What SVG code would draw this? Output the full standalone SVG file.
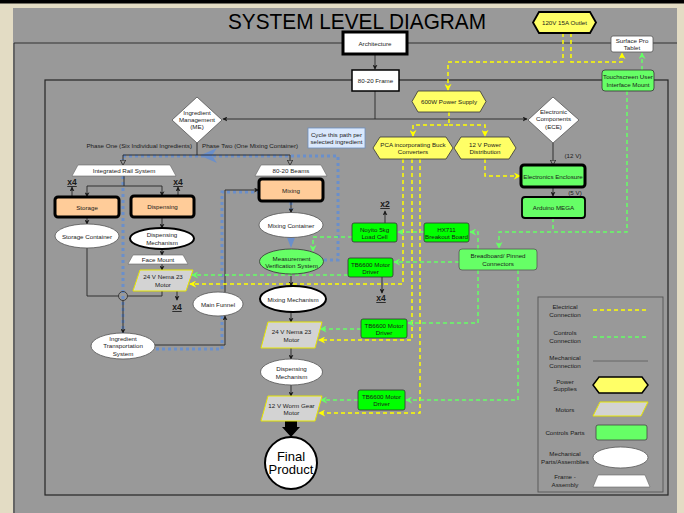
<svg xmlns="http://www.w3.org/2000/svg" width="684" height="513" viewBox="0 0 684 513">
<style>
text{font-family:"Liberation Sans",Arial,sans-serif;}
.t{font-size:6.2px;fill:#1a1a1a;text-anchor:middle;dominant-baseline:central;}
.xn{font-size:8.5px;font-weight:bold;fill:#1a1a1a;text-anchor:middle;text-decoration:underline;}
.mech{fill:none;stroke:#262626;stroke-width:0.9;}
.yel{fill:none;stroke:#ffff00;stroke-width:1.5;stroke-dasharray:4 3;}
.grn{fill:none;stroke:#66ff66;stroke-width:1.5;stroke-dasharray:4 3;}
.blu{fill:none;stroke:#6a8fcb;stroke-width:3;stroke-dasharray:3 3;}
.wht{fill:#ffffff;stroke:#555;stroke-width:0.8;}
.thick{fill:#ffffff;stroke:#000;stroke-width:2;}
.peach{fill:#ffcc99;stroke:#000;stroke-width:3;}
.lg{fill:#66ff66;stroke:#333;stroke-width:0.8;}
.bg{fill:#00ff00;stroke:#333;stroke-width:0.8;}
.pwr{fill:#ffff66;stroke:#333;stroke-width:0.8;}
.mot{fill:#d3d3d3;stroke:#e6e600;stroke-width:1;}
.frm{fill:#ffffff;stroke:#666;stroke-width:0.6;}
</style>
<defs>
<marker id="ab" viewBox="0 0 8 8" refX="7" refY="4" markerWidth="5" markerHeight="5" markerUnits="userSpaceOnUse" orient="auto"><path d="M0,0 L8,4 L0,8 L2,4 z" fill="#1a1a1a"/></marker>
<marker id="ay" viewBox="0 0 8 8" refX="7" refY="4" markerWidth="7" markerHeight="7" markerUnits="userSpaceOnUse" orient="auto"><path d="M0,0 L8,4 L0,8 L2.5,4 z" fill="#ffff00"/></marker>
<marker id="ag" viewBox="0 0 8 8" refX="7" refY="4" markerWidth="7" markerHeight="7" markerUnits="userSpaceOnUse" orient="auto"><path d="M0,0 L8,4 L0,8 L2.5,4 z" fill="#66ff66"/></marker>
<marker id="ao" viewBox="0 0 8 8" refX="7" refY="4" markerWidth="6" markerHeight="6" markerUnits="userSpaceOnUse" orient="auto"><path d="M0.5,0.5 L7.5,4 L0.5,7.5 z" fill="#999" stroke="#1a1a1a" stroke-width="1"/></marker>
<marker id="aob" viewBox="0 0 8 8" refX="7" refY="4" markerWidth="7" markerHeight="7" markerUnits="userSpaceOnUse" orient="auto"><path d="M0.5,0.5 L7.5,4 L0.5,7.5 z" fill="#999" stroke="#6a8fcb" stroke-width="1.2"/></marker>
</defs>

<!-- background -->
<rect x="0" y="0" width="684" height="513" fill="#e3dcc4"/>
<rect x="0" y="0" width="684" height="3.5" fill="#000"/>
<rect x="13" y="8" width="664" height="505" fill="#999999"/>

<text x="228" y="29" font-size="22.5" fill="#000" textLength="258" lengthAdjust="spacingAndGlyphs">SYSTEM LEVEL DIAGRAM</text>

<g id="connectors">
<!-- frames -->
<path class="mech" d="M14 513 V43 H677" stroke-width="1.2"/>
<rect x="45" y="80" width="623" height="415" fill="none" stroke="#262626" stroke-width="1.2"/>
<path class="mech" d="M375 54 V69" marker-end="url(#ab)"/>
<path class="mech" d="M375 91 V119 H223" marker-end="url(#ab)"/>
<path class="mech" d="M375 119 H527" marker-end="url(#ab)"/>
<path class="mech" d="M553 143 V165" marker-end="url(#ao)"/>
<path class="mech" d="M553 187 V196" marker-end="url(#ab)"/>

<!-- blue cycle path -->
<path class="blu" d="M324 260 H338 V156 H123 V160"/>
<path class="blu" d="M123 176 V333"/>
<path class="blu" d="M156 349 H222 V192 H258"/>
<path class="blu" d="M291 202 V212"/>
<polygon points="200,155.5 217,148 212,155.5 217,163" fill="#6a8fcb"/>
<polygon points="287,237.5 295,237.5 291,248" fill="#6a8fcb"/>

<!-- mechanical -->
<path class="mech" d="M197 143 V155 H123 V165" marker-end="url(#ao)"/>
<path class="mech" d="M197 155 H290 V165" marker-end="url(#ao)"/>
<path class="mech" d="M124 176 V186"/>
<path class="mech" d="M87 186 H162"/>
<path class="mech" d="M87 186 V196.5" marker-end="url(#ab)"/>
<path class="mech" d="M162 186 V195.5" marker-end="url(#ab)"/>
<path class="mech" d="M72 197 V187" marker-end="url(#ab)"/>
<path class="mech" d="M178 196 V187" marker-end="url(#ab)"/>
<path class="mech" d="M87 217 V224" marker-end="url(#ab)"/>
<path class="mech" d="M162 217 V228" marker-end="url(#ab)"/>
<path class="mech" d="M162 249 V255" marker-end="url(#ab)"/>
<path class="mech" d="M162 264 V270" marker-end="url(#ab)"/>
<path class="mech" d="M87 248 V296 H118.5"/>
<path class="mech" d="M127.5 296 H162 V291"/>
<circle cx="123" cy="296" r="4.5" fill="none" stroke="#333" stroke-width="0.9"/>
<path class="mech" d="M123 300.5 V333" marker-end="url(#ab)"/>
<path class="mech" d="M177 291 V300" marker-end="url(#ab)"/>
<path class="mech" d="M155 345 H225 V316" marker-end="url(#ab)"/>
<path class="mech" d="M225 292 V190 H258.5" marker-end="url(#ab)"/>
<path class="mech" d="M291 201 V212.5" marker-end="url(#ab)"/>
<path class="mech" d="M291 274 V286" marker-end="url(#ab)"/>
<path class="mech" d="M291 312 V322" marker-end="url(#ab)"/>
<path class="mech" d="M291 348 V359" marker-end="url(#ab)"/>
<path class="mech" d="M291 385 V396" marker-end="url(#ab)"/>
<path class="mech" d="M385 223 V211" marker-end="url(#ab)"/>
<path class="mech" d="M382 277 V293" marker-end="url(#ab)"/>
<polygon points="285,421 297,421 297,427 300,427 291,437 282,427 285,427" fill="#000"/>

<!-- electrical -->
<path class="yel" d="M563 33 V62 H448 V90" marker-end="url(#ay)"/>
<path class="yel" d="M571 33 V62 H622 V53" marker-end="url(#ay)"/>
<path class="yel" d="M449 112 V125 H413 V136" marker-end="url(#ay)"/>
<path class="yel" d="M449 125 H485 V136" marker-end="url(#ay)"/>
<path class="yel" d="M485 159 V176 H520" marker-end="url(#ay)"/>
<path class="yel" d="M403 159 V284 H190" marker-end="url(#ay)"/>
<path class="yel" d="M412 159 V340 H319" marker-end="url(#ay)"/>
<path class="yel" d="M420 159 V413 H319" marker-end="url(#ay)"/>

<!-- controls -->
<path class="grn" d="M642 70 V53" marker-end="url(#ag)"/>
<path class="grn" d="M627 91 V232 H499 V248" marker-end="url(#ag)"/>
<path class="grn" d="M553 218 V232"/>
<path class="grn" d="M478 249 V232 H470" marker-end="url(#ag)"/>
<path class="grn" d="M424 232 H398" marker-end="url(#ag)"/>
<path class="grn" d="M352 237 H313 V251" marker-end="url(#ag)"/>
<path class="grn" d="M459 262 H394" marker-end="url(#ag)"/>
<path class="grn" d="M348 275 H192" marker-end="url(#ag)"/>
<path class="grn" d="M478 270 V323 H408" marker-end="url(#ag)"/>
<path class="grn" d="M361 329 H320.5" marker-end="url(#ag)"/>
<path class="grn" d="M518 270 V400 H406" marker-end="url(#ag)"/>
<path class="grn" d="M358 400 H321" marker-end="url(#ag)"/>
</g>

<!-- nodes -->
<g id="architecture"><rect x="343" y="32" width="64" height="22" fill="#fff" stroke="#000" stroke-width="3"/><text class="t" x="375" y="43">Architecture</text></g>
<g id="frame8020"><rect x="352" y="70" width="47" height="21" fill="#fff" stroke="#000" stroke-width="1.5"/><text class="t" x="375.5" y="80.5">80-20 Frame</text></g>
<g id="outlet"><polygon points="539,12 590,12 596,22.5 590,33 539,33 533,22.5" fill="#ffff66" stroke="#000" stroke-width="1.8"/><text class="t" x="564.5" y="22.5">120V 15A Outlet</text></g>
<g id="surface"><rect x="611" y="36" width="42" height="16" rx="2" class="wht"/><text class="t" x="632" y="40.5">Surface Pro</text><text class="t" x="632" y="47.5">Tablet</text></g>
<g id="touch"><rect x="602" y="70" width="52" height="21" rx="3" class="lg"/><text class="t" x="628" y="76.5">Touchscreen User</text><text class="t" x="628" y="84">Interface Mount</text></g>
<g id="psu"><polygon points="418,91 480,91 486,101.5 480,112 418,112 412,101.5" class="pwr"/><text class="t" x="449" y="101.5">600W Power Supply</text></g>
<g id="ingmgmt"><polygon points="197,97 222,120 197,143 172,120" class="wht"/><text class="t" x="197" y="112.5">Ingredient</text><text class="t" x="197" y="119">Management</text><text class="t" x="197" y="126">(ME)</text></g>
<g id="ece"><polygon points="553,97 579,120 553,143 528,120" class="wht"/><text class="t" x="553.5" y="111">Electronic</text><text class="t" x="553.5" y="118">Components</text><text class="t" x="553.5" y="126">(ECE)</text></g>
<g id="pca"><polygon points="380,137 446,137 453,148 446,159 380,159 373,148" class="pwr"/><text class="t" x="413" y="144">PCA incorporating Buck</text><text class="t" x="413" y="151.5">Converters</text></g>
<g id="dist12"><polygon points="461,137 509,137 516,148 509,159 461,159 454,148" class="pwr"/><text class="t" x="485" y="144">12 V Power</text><text class="t" x="485" y="151.5">Distribution</text></g>
<g id="labels12"><text class="t" x="573" y="155">(12 V)</text><text class="t" x="575" y="192">(5 V)</text></g>
<g id="enclosure"><rect x="521" y="165" width="64" height="22" rx="3" fill="#66ff66" stroke="#000" stroke-width="3"/><text class="t" x="553" y="176">Electronics Enclosure</text></g>
<g id="arduino"><rect x="522" y="197" width="63" height="21" rx="3" fill="#66ff66" stroke="#000" stroke-width="1.8"/><text class="t" x="553.5" y="207.5">Arduino MEGA</text></g>
<g id="breadboard"><rect x="459" y="249" width="78" height="21" rx="3" fill="#66ff66" stroke="#555" stroke-width="0.8"/><text class="t" x="498" y="255.5">Breadboard/ Pinned</text><text class="t" x="498" y="263">Connectors</text></g>
<g id="loadcell"><rect x="352" y="223" width="45" height="19" rx="2" class="bg"/><text class="t" x="374.5" y="229">Noyito 5kg</text><text class="t" x="374.5" y="236">Load Cell</text></g>
<g id="hx711"><rect x="424" y="223" width="45" height="19" rx="2" class="bg"/><text class="t" x="446.5" y="229">HX711</text><text class="t" x="446.5" y="236">Breakout Board</text></g>
<g id="tb1"><rect x="348" y="258" width="45" height="19" rx="2" class="bg"/><text class="t" x="370.5" y="264">TB6600 Motor</text><text class="t" x="370.5" y="271">Driver</text></g>
<g id="tb2"><rect x="361" y="319" width="46" height="19" rx="2" class="bg"/><text class="t" x="384" y="325">TB6600 Motor</text><text class="t" x="384" y="332">Driver</text></g>
<g id="tb3"><rect x="358" y="390" width="47" height="20" rx="2" class="bg"/><text class="t" x="381.5" y="396.5">TB6600 Motor</text><text class="t" x="381.5" y="403.5">Driver</text></g>
<g id="mults"><text class="xn" x="72" y="185">x4</text><text class="xn" x="178" y="185">x4</text><text class="xn" x="177" y="310">x4</text><text class="xn" x="385" y="207">x2</text><text class="xn" x="381" y="301">x4</text></g>

<g id="cycle"><rect x="308" y="128" width="57" height="20" fill="#dae8fc" stroke="#6c8ebf" stroke-width="0.8"/><text class="t" x="336.5" y="134.5">Cycle this path per</text><text class="t" x="336.5" y="141.5">selected ingredient</text></g>
<g id="phases"><text class="t" x="192" y="145" style="text-anchor:end">Phase One (Six Individual Ingredients)</text><text class="t" x="202" y="145" style="text-anchor:start">Phase Two (One Mixing Container)</text></g>

<g id="rail"><polygon points="78,165 170,165 176,176 72,176" class="frm"/><text class="t" x="124" y="170.5">Integrated Rail System</text></g>
<g id="beams"><polygon points="261,165 321,165 327,176 255,176" class="frm"/><text class="t" x="291" y="170.5">80-20 Beams</text></g>
<g id="storage"><rect x="55" y="197" width="64" height="20" rx="3" class="peach"/><text class="t" x="87" y="207">Storage</text></g>
<g id="dispensing"><rect x="131" y="196" width="63" height="21" rx="3" class="peach"/><text class="t" x="162.5" y="206.5">Dispensing</text></g>
<g id="storagecont"><ellipse cx="87" cy="236" rx="32" ry="12" class="wht"/><text class="t" x="87" y="236">Storage Container</text></g>
<g id="dispmech1"><ellipse cx="162" cy="238.5" rx="32" ry="10.5" class="thick"/><text class="t" x="162" y="234.5">Dispensing</text><text class="t" x="162" y="242">Mechanism</text></g>
<g id="facemount"><polygon points="133,255 183,255 188,264 128,264" class="frm"/><text class="t" x="158" y="259.5">Face Mount</text></g>
<g id="motor1"><polygon points="140,270 193,270 186,291 133,291" class="mot"/><text class="t" x="163" y="276.5">24 V Nema 23</text><text class="t" x="163" y="284">Motor</text></g>
<g id="its"><ellipse cx="123" cy="346" rx="32" ry="13" class="wht"/><text class="t" x="123" y="338.5">Ingredient</text><text class="t" x="123" y="345.5">Transportation</text><text class="t" x="123" y="353">System</text></g>
<g id="funnel"><ellipse cx="218" cy="304" rx="25" ry="12" class="wht"/><text class="t" x="218" y="304">Main Funnel</text></g>
<g id="mixing"><rect x="259" y="179" width="64" height="22" rx="3" class="peach"/><text class="t" x="291" y="190">Mixing</text></g>
<g id="mixcont"><ellipse cx="291" cy="225" rx="32" ry="12.5" class="wht"/><text class="t" x="291" y="225">Mixing Container</text></g>
<g id="mvs"><ellipse cx="291.5" cy="261.5" rx="32" ry="12.5" fill="#66ff66" stroke="#333" stroke-width="0.8"/><text class="t" x="291.5" y="258">Measurement</text><text class="t" x="291.5" y="265.5">Verification System</text></g>
<g id="mixmech"><ellipse cx="293" cy="299" rx="33" ry="13" class="thick"/><text class="t" x="293" y="299">Mixing Mechanism</text></g>
<g id="motor2"><polygon points="268,322 322,322 315,348 261,348" class="mot"/><text class="t" x="291.5" y="331.5">24 V Nema 23</text><text class="t" x="291.5" y="339">Motor</text></g>
<g id="dispmech2"><ellipse cx="291.5" cy="372" rx="31" ry="13" class="wht"/><text class="t" x="291.5" y="368.5">Dispensing</text><text class="t" x="291.5" y="376">Mechanism</text></g>
<g id="wormgear"><polygon points="268,396 322,396 315,421 261,421" class="mot"/><text class="t" x="291.5" y="405">12 V Worm Gear</text><text class="t" x="291.5" y="412.5">Motor</text></g>
<g id="final"><circle cx="291" cy="463" r="26" fill="#fff" stroke="#000" stroke-width="2"/><text x="291" y="456" font-size="13" text-anchor="middle" dominant-baseline="central" fill="#000">Final</text><text x="291" y="469.5" font-size="13" text-anchor="middle" dominant-baseline="central" fill="#000">Product</text></g>

<g id="legend">
<rect x="538" y="297" width="125" height="195" fill="none" stroke="#555" stroke-width="0.9"/>
<text class="t" x="565" y="306.5">Electrical</text><text class="t" x="565" y="314">Connection</text>
<path class="yel" d="M593 310 H646"/>
<text class="t" x="565" y="332.5">Controls</text><text class="t" x="565" y="340">Connection</text>
<path class="grn" d="M593 337 H646"/>
<text class="t" x="565" y="357.5">Mechanical</text><text class="t" x="565" y="365">Connection</text>
<path d="M593 361 H648" stroke="#666" stroke-width="1" fill="none"/>
<text class="t" x="565" y="381">Power</text><text class="t" x="565" y="388.5">Supplies</text>
<polygon points="599,377 642,377 648,385 642,393 599,393 593,385" fill="#ffff66" stroke="#000" stroke-width="1.5"/>
<text class="t" x="565" y="409">Motors</text>
<polygon points="600,402 648,402 641,416 593,416" class="mot"/>
<text class="t" x="565" y="432">Controls Parts</text>
<rect x="596" y="425" width="51" height="15" rx="2" fill="#66ff66" stroke="#444" stroke-width="0.8"/>
<text class="t" x="565" y="453.5">Mechanical</text><text class="t" x="565" y="461">Parts/Assemblies</text>
<ellipse cx="620.5" cy="457.5" rx="27.5" ry="10.5" class="wht"/>
<text class="t" x="565" y="476.5">Frame -</text><text class="t" x="565" y="484">Assembly</text>
<polygon points="598,475 645,475 650,487 593,487" class="frm"/>
</g>
</svg>
